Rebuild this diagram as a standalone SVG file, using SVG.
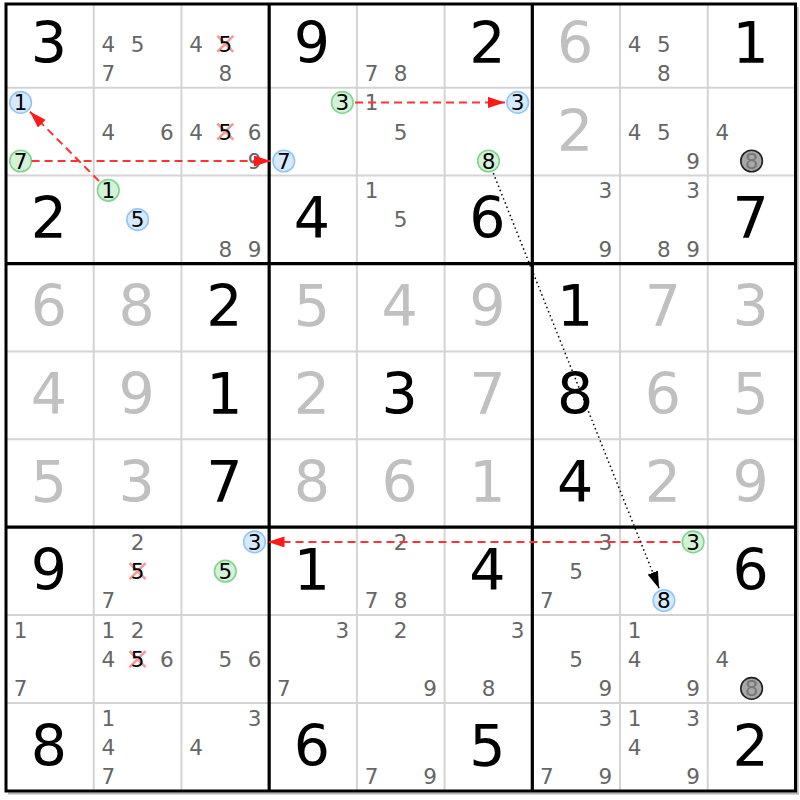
<svg xmlns="http://www.w3.org/2000/svg" width="800" height="800" viewBox="0 0 800 800">
<style>
text{font-family:"DejaVu Sans",Verdana,sans-serif;text-anchor:middle}
.b{font-size:57px;fill:#000}
.g{font-size:57px;fill:#c0c0c0}
.c{font-size:21.5px;fill:#666}
.k{font-size:21.5px;fill:#000}
.kg{font-size:21.5px;fill:#777}
.thin{stroke:#d4d4d4;stroke-width:2}
.thick{stroke:#000;stroke-width:3.2}
.bl{fill:#d6eaff;stroke:#92c6f5;stroke-width:1.6}
.gr{fill:#d4f2d8;stroke:#7fd68c;stroke-width:1.6}
.gy{fill:#a8a8a8;stroke:#222;stroke-width:1.6}
.x{stroke:#f08a8a;stroke-width:2.6;opacity:0.85}
.red{stroke:#ff3333;stroke-width:2;stroke-dasharray:8,5;fill:none}
.dot{stroke:#000;stroke-width:1.5;stroke-dasharray:1.5,3;fill:none}
</style>
<defs>
<marker id="ar" markerUnits="userSpaceOnUse" markerWidth="17" markerHeight="11" refX="17" refY="5.5" orient="auto"><path d="M0,0 L17,5.5 L0,11 z" fill="#ff1a1a"/></marker>
<marker id="ak" markerUnits="userSpaceOnUse" markerWidth="17" markerHeight="11" refX="17" refY="5.5" orient="auto"><path d="M0,0 L17,5.5 L0,11 z" fill="#000"/></marker>
</defs>
<rect x="0" y="0" width="800" height="800" fill="#fff"/>
<g id="grid">
<g class="thin">
<line x1="93.72" y1="4" x2="93.72" y2="791"/><line x1="181.44" y1="4" x2="181.44" y2="791"/>
<line x1="356.88" y1="4" x2="356.88" y2="791"/><line x1="444.6" y1="4" x2="444.6" y2="791"/>
<line x1="620.04" y1="4" x2="620.04" y2="791"/><line x1="707.76" y1="4" x2="707.76" y2="791"/>
<line x1="6" y1="87.7" x2="795.5" y2="87.7"/><line x1="6" y1="175.6" x2="795.5" y2="175.6"/>
<line x1="6" y1="351.4" x2="795.5" y2="351.4"/><line x1="6" y1="439.3" x2="795.5" y2="439.3"/>
<line x1="6" y1="615.1" x2="795.5" y2="615.1"/><line x1="6" y1="703" x2="795.5" y2="703"/>
</g>
<g class="thick">
<line x1="269.16" y1="4" x2="269.16" y2="791"/><line x1="532.32" y1="4" x2="532.32" y2="791"/>
<line x1="6" y1="263.6" x2="795.5" y2="263.6"/><line x1="6" y1="527.1" x2="795.5" y2="527.1"/>
</g>
<line x1="797.6" y1="7" x2="797.6" y2="794.2" stroke="#b4b4b4" stroke-width="2"/>
<line x1="8" y1="793.4" x2="798.6" y2="793.4" stroke="#b4b4b4" stroke-width="2"/>
<rect x="6" y="4" width="789.5" height="787" fill="none" stroke="#000" stroke-width="3"/>
</g>

<g id="r0c0"><text class="b" x="48.9" y="62.6">3</text></g>
<g id="r0c1"><text class="c" x="108.3" y="51.6">4</text><text class="c" x="137.6" y="51.6">5</text><text class="c" x="108.3" y="80.9">7</text></g>
<g id="r0c2"><text class="c" x="196.1" y="51.6">4</text><path class="x" d="M217.3,35.8 L233.3,51.8 M233.3,35.8 L217.3,51.8"/><text class="k" x="225.3" y="51.6">5</text><text class="c" x="225.3" y="80.9">8</text></g>
<g id="r0c3"><text class="b" x="312" y="62.6">9</text></g>
<g id="r0c4"><text class="c" x="371.5" y="80.9">7</text><text class="c" x="400.7" y="80.9">8</text></g>
<g id="r0c5"><text class="b" x="487.5" y="62.6">2</text></g>
<g id="r0c6"><text class="g" x="575.2" y="62.6">6</text></g>
<g id="r0c7"><text class="c" x="634.7" y="51.6">4</text><text class="c" x="663.9" y="51.6">5</text><text class="c" x="663.9" y="80.9">8</text></g>
<g id="r0c8"><text class="b" x="750.6" y="62.6">1</text></g>

<g id="r1c0"><circle class="bl" cx="20.6" cy="102.4" r="10.8"/><text class="k" x="20.6" y="110.2">1</text><circle class="gr" cx="20.6" cy="161" r="10.8"/><text class="k" x="20.6" y="168.8">7</text></g>
<g id="r1c1"><text class="c" x="108.3" y="139.5">4</text><text class="c" x="166.8" y="139.5">6</text></g>
<g id="r1c2"><text class="c" x="196.1" y="139.5">4</text><path class="x" d="M217.3,123.7 L233.3,139.7 M233.3,123.7 L217.3,139.7"/><text class="k" x="225.3" y="139.5">5</text><text class="c" x="254.5" y="139.5">6</text><text class="c" x="254.5" y="168.8">9</text></g>
<g id="r1c3"><circle class="gr" cx="342.3" cy="102.4" r="10.8"/><text class="k" x="342.3" y="110.2">3</text><circle class="bl" cx="283.8" cy="161" r="10.8"/><text class="k" x="283.8" y="168.8">7</text></g>
<g id="r1c4"><text class="c" x="371.5" y="110.2">1</text><text class="c" x="400.7" y="139.5">5</text></g>
<g id="r1c5"><circle class="bl" cx="517.7" cy="102.4" r="10.8"/><text class="k" x="517.7" y="110.2">3</text><circle class="gr" cx="488.5" cy="161" r="10.8"/><text class="k" x="488.5" y="168.8">8</text></g>
<g id="r1c6"><text class="g" x="575.2" y="150.5">2</text></g>
<g id="r1c7"><text class="c" x="634.7" y="139.5">4</text><text class="c" x="663.9" y="139.5">5</text><text class="c" x="693.1" y="168.8">9</text></g>
<g id="r1c8"><text class="c" x="722.4" y="139.5">4</text><circle class="gy" cx="751.6" cy="161" r="10.8"/><text class="kg" x="751.6" y="168.8">8</text></g>

<g id="r2c0"><text class="b" x="48.9" y="238.4">2</text></g>
<g id="r2c1"><circle class="gr" cx="108.3" cy="190.3" r="10.8"/><text class="k" x="108.3" y="198.1">1</text><circle class="bl" cx="137.6" cy="219.6" r="10.8"/><text class="k" x="137.6" y="227.4">5</text></g>
<g id="r2c2"><text class="c" x="225.3" y="256.7">8</text><text class="c" x="254.5" y="256.7">9</text></g>
<g id="r2c3"><text class="b" x="312" y="238.4">4</text></g>
<g id="r2c4"><text class="c" x="371.5" y="198.1">1</text><text class="c" x="400.7" y="227.4">5</text></g>
<g id="r2c5"><text class="b" x="487.5" y="238.4">6</text></g>
<g id="r2c6"><text class="c" x="605.4" y="198.1">3</text><text class="c" x="605.4" y="256.7">9</text></g>
<g id="r2c7"><text class="c" x="693.1" y="198.1">3</text><text class="c" x="663.9" y="256.7">8</text><text class="c" x="693.1" y="256.7">9</text></g>
<g id="r2c8"><text class="b" x="750.6" y="238.4">7</text></g>

<g id="r3c0"><text class="g" x="48.9" y="326.3">6</text></g>
<g id="r3c1"><text class="g" x="136.6" y="326.3">8</text></g>
<g id="r3c2"><text class="b" x="224.3" y="326.3">2</text></g>
<g id="r3c3"><text class="g" x="312" y="326.3">5</text></g>
<g id="r3c4"><text class="g" x="399.7" y="326.3">4</text></g>
<g id="r3c5"><text class="g" x="487.5" y="326.3">9</text></g>
<g id="r3c6"><text class="b" x="575.2" y="326.3">1</text></g>
<g id="r3c7"><text class="g" x="662.9" y="326.3">7</text></g>
<g id="r3c8"><text class="g" x="750.6" y="326.3">3</text></g>

<g id="r4c0"><text class="g" x="48.9" y="414.2">4</text></g>
<g id="r4c1"><text class="g" x="136.6" y="414.2">9</text></g>
<g id="r4c2"><text class="b" x="224.3" y="414.2">1</text></g>
<g id="r4c3"><text class="g" x="312" y="414.2">2</text></g>
<g id="r4c4"><text class="b" x="399.7" y="414.2">3</text></g>
<g id="r4c5"><text class="g" x="487.5" y="414.2">7</text></g>
<g id="r4c6"><text class="b" x="575.2" y="414.2">8</text></g>
<g id="r4c7"><text class="g" x="662.9" y="414.2">6</text></g>
<g id="r4c8"><text class="g" x="750.6" y="414.2">5</text></g>

<g id="r5c0"><text class="g" x="48.9" y="502.1">5</text></g>
<g id="r5c1"><text class="g" x="136.6" y="502.1">3</text></g>
<g id="r5c2"><text class="b" x="224.3" y="502.1">7</text></g>
<g id="r5c3"><text class="g" x="312" y="502.1">8</text></g>
<g id="r5c4"><text class="g" x="399.7" y="502.1">6</text></g>
<g id="r5c5"><text class="g" x="487.5" y="502.1">1</text></g>
<g id="r5c6"><text class="b" x="575.2" y="502.1">4</text></g>
<g id="r5c7"><text class="g" x="662.9" y="502.1">2</text></g>
<g id="r5c8"><text class="g" x="750.6" y="502.1">9</text></g>

<g id="r6c0"><text class="b" x="48.9" y="590">9</text></g>
<g id="r6c1"><text class="c" x="137.6" y="549.7">2</text><path class="x" d="M129.6,563.2 L145.6,579.2 M145.6,563.2 L129.6,579.2"/><text class="k" x="137.6" y="579">5</text><text class="c" x="108.3" y="608.3">7</text></g>
<g id="r6c2"><circle class="bl" cx="254.5" cy="541.9" r="10.8"/><text class="k" x="254.5" y="549.7">3</text><circle class="gr" cx="225.3" cy="571.2" r="10.8"/><text class="k" x="225.3" y="579">5</text></g>
<g id="r6c3"><text class="b" x="312" y="590">1</text></g>
<g id="r6c4"><text class="c" x="400.7" y="549.7">2</text><text class="c" x="371.5" y="608.3">7</text><text class="c" x="400.7" y="608.3">8</text></g>
<g id="r6c5"><text class="b" x="487.5" y="590">4</text></g>
<g id="r6c6"><text class="c" x="605.4" y="549.7">3</text><text class="c" x="576.2" y="579">5</text><text class="c" x="546.9" y="608.3">7</text></g>
<g id="r6c7"><circle class="gr" cx="693.1" cy="541.9" r="10.8"/><text class="k" x="693.1" y="549.7">3</text><circle class="bl" cx="663.9" cy="600.5" r="10.8"/><text class="k" x="663.9" y="608.3">8</text></g>
<g id="r6c8"><text class="b" x="750.6" y="590">6</text></g>

<g id="r7c0"><text class="c" x="20.6" y="637.6">1</text><text class="c" x="20.6" y="696.2">7</text></g>
<g id="r7c1"><text class="c" x="108.3" y="637.6">1</text><text class="c" x="137.6" y="637.6">2</text><text class="c" x="108.3" y="666.9">4</text><path class="x" d="M129.6,651.1 L145.6,667.1 M145.6,651.1 L129.6,667.1"/><text class="k" x="137.6" y="666.9">5</text><text class="c" x="166.8" y="666.9">6</text></g>
<g id="r7c2"><text class="c" x="225.3" y="666.9">5</text><text class="c" x="254.5" y="666.9">6</text></g>
<g id="r7c3"><text class="c" x="342.3" y="637.6">3</text><text class="c" x="283.8" y="696.2">7</text></g>
<g id="r7c4"><text class="c" x="400.7" y="637.6">2</text><text class="c" x="430" y="696.2">9</text></g>
<g id="r7c5"><text class="c" x="517.7" y="637.6">3</text><text class="c" x="488.5" y="696.2">8</text></g>
<g id="r7c6"><text class="c" x="576.2" y="666.9">5</text><text class="c" x="605.4" y="696.2">9</text></g>
<g id="r7c7"><text class="c" x="634.7" y="637.6">1</text><text class="c" x="634.7" y="666.9">4</text><text class="c" x="693.1" y="696.2">9</text></g>
<g id="r7c8"><text class="c" x="722.4" y="666.9">4</text><circle class="gy" cx="751.6" cy="688.4" r="10.8"/><text class="kg" x="751.6" y="696.2">8</text></g>

<g id="r8c0"><text class="b" x="48.9" y="765.8">8</text></g>
<g id="r8c1"><text class="c" x="108.3" y="725.5">1</text><text class="c" x="108.3" y="754.8">4</text><text class="c" x="108.3" y="784.1">7</text></g>
<g id="r8c2"><text class="c" x="254.5" y="725.5">3</text><text class="c" x="196.1" y="754.8">4</text></g>
<g id="r8c3"><text class="b" x="312" y="765.8">6</text></g>
<g id="r8c4"><text class="c" x="371.5" y="784.1">7</text><text class="c" x="430" y="784.1">9</text></g>
<g id="r8c5"><text class="b" x="487.5" y="765.8">5</text></g>
<g id="r8c6"><text class="c" x="605.4" y="725.5">3</text><text class="c" x="546.9" y="784.1">7</text><text class="c" x="605.4" y="784.1">9</text></g>
<g id="r8c7"><text class="c" x="634.7" y="725.5">1</text><text class="c" x="693.1" y="725.5">3</text><text class="c" x="634.7" y="754.8">4</text><text class="c" x="693.1" y="784.1">9</text></g>
<g id="r8c8"><text class="b" x="750.6" y="765.8">2</text></g>

<g id="connectors">
<line class="red" x1="99.1" y1="181.1" x2="29.8" y2="111.6" marker-end="url(#ar)"/>
<line class="red" x1="31.6" y1="161" x2="270.8" y2="161" marker-end="url(#ar)"/>
<line class="red" x1="355" y1="102.4" x2="505" y2="102.4" marker-end="url(#ar)"/>
<line class="red" x1="680.5" y1="541.9" x2="267.5" y2="541.9" marker-end="url(#ar)"/>
<line class="dot" x1="493.3" y1="173.1" x2="659.1" y2="588.4" marker-end="url(#ak)"/>
</g>
</svg>
